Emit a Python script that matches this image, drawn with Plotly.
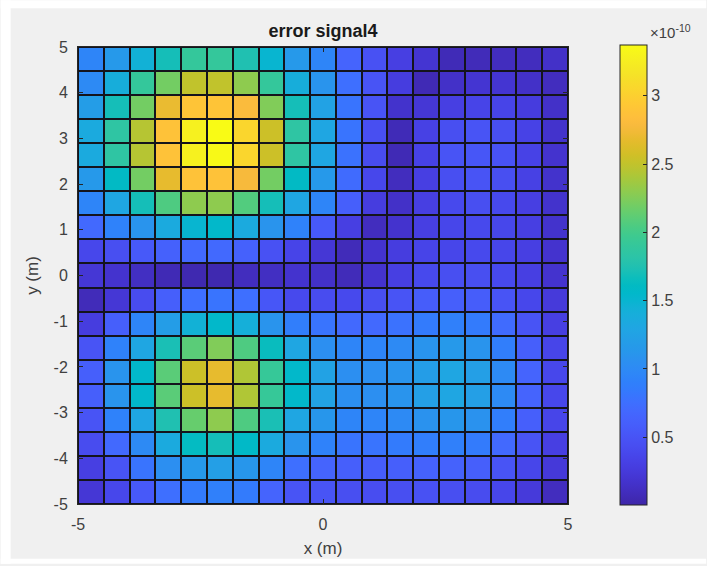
import numpy as np
import plotly.graph_objects as go

# Grid vertices (pcolor-style: 20 edges -> 19 cells per axis)
x_edges = np.linspace(-5, 5, 20)
y_edges = np.linspace(-5, 5, 20)

# Error signal values (x 1e-10), one list per row, top row (y = 5) first
row_00 = [0.95, 1.15, 1.45, 1.70, 1.90, 1.90, 1.75, 1.50, 1.15, 0.95, 0.65, 0.47, 0.30, 0.20, 0.07, 0.08, 0.10, 0.10, 0.15]
row_01 = [1.00, 1.40, 1.90, 2.20, 2.50, 2.50, 2.30, 1.90, 1.40, 1.10, 0.75, 0.50, 0.28, 0.06, 0.15, 0.20, 0.20, 0.15, 0.10]
row_02 = [1.20, 1.70, 2.20, 2.70, 2.90, 2.90, 2.80, 2.25, 1.70, 1.25, 0.80, 0.50, 0.17, 0.22, 0.30, 0.35, 0.35, 0.27, 0.15]
row_03 = [1.35, 1.85, 2.45, 2.88, 3.28, 3.37, 3.05, 2.55, 1.85, 1.30, 0.80, 0.45, 0.07, 0.32, 0.45, 0.50, 0.45, 0.33, 0.17]
row_04 = [1.35, 1.85, 2.45, 2.88, 3.28, 3.35, 3.05, 2.55, 1.85, 1.30, 0.78, 0.42, 0.06, 0.33, 0.50, 0.52, 0.48, 0.33, 0.18]
row_05 = [1.15, 1.60, 2.20, 2.68, 2.88, 2.88, 2.78, 2.20, 1.60, 1.15, 0.72, 0.38, 0.10, 0.30, 0.45, 0.50, 0.45, 0.32, 0.17]
row_06 = [0.95, 1.30, 1.70, 2.05, 2.30, 2.30, 2.07, 1.70, 1.30, 0.95, 0.60, 0.28, 0.15, 0.30, 0.40, 0.45, 0.40, 0.30, 0.17]
row_07 = [0.70, 0.92, 1.10, 1.35, 1.50, 1.55, 1.35, 1.10, 0.92, 0.55, 0.30, 0.10, 0.18, 0.30, 0.37, 0.40, 0.38, 0.30, 0.17]
row_08 = [0.38, 0.45, 0.55, 0.62, 0.70, 0.70, 0.62, 0.47, 0.35, 0.22, 0.08, 0.18, 0.28, 0.35, 0.37, 0.40, 0.37, 0.30, 0.18]
row_09 = [0.22, 0.18, 0.12, 0.06, 0.04, 0.04, 0.10, 0.12, 0.18, 0.15, 0.08, 0.18, 0.30, 0.40, 0.45, 0.45, 0.40, 0.30, 0.18]
row_10 = [0.08, 0.22, 0.42, 0.60, 0.75, 0.80, 0.75, 0.52, 0.40, 0.42, 0.40, 0.45, 0.50, 0.58, 0.60, 0.58, 0.50, 0.38, 0.25]
row_11 = [0.28, 0.60, 0.95, 1.20, 1.45, 1.55, 1.42, 1.10, 0.88, 0.80, 0.70, 0.70, 0.78, 0.85, 0.90, 0.85, 0.72, 0.50, 0.30]
row_12 = [0.50, 0.92, 1.30, 1.72, 2.10, 2.25, 2.05, 1.65, 1.30, 1.05, 0.95, 0.95, 1.00, 1.10, 1.15, 1.10, 0.88, 0.60, 0.36]
row_13 = [0.60, 1.10, 1.55, 2.10, 2.55, 2.68, 2.43, 1.92, 1.55, 1.25, 1.05, 1.05, 1.10, 1.20, 1.30, 1.22, 1.00, 0.65, 0.38]
row_14 = [0.60, 1.10, 1.55, 2.10, 2.55, 2.68, 2.43, 1.92, 1.55, 1.25, 1.05, 1.05, 1.10, 1.22, 1.30, 1.22, 1.00, 0.65, 0.38]
row_15 = [0.50, 0.92, 1.30, 1.75, 2.15, 2.30, 2.05, 1.72, 1.30, 1.12, 0.95, 0.95, 1.00, 1.08, 1.12, 1.08, 0.88, 0.60, 0.36]
row_16 = [0.42, 0.70, 1.00, 1.35, 1.62, 1.70, 1.58, 1.35, 1.10, 0.92, 0.80, 0.80, 0.85, 0.88, 0.90, 0.85, 0.70, 0.50, 0.30]
row_17 = [0.30, 0.50, 0.80, 1.05, 1.15, 1.22, 1.12, 0.95, 0.75, 0.65, 0.60, 0.58, 0.60, 0.63, 0.63, 0.60, 0.50, 0.37, 0.24]
row_18 = [0.22, 0.38, 0.55, 0.75, 0.85, 0.90, 0.85, 0.65, 0.50, 0.50, 0.45, 0.43, 0.45, 0.47, 0.45, 0.42, 0.37, 0.25, 0.10]

rows_top_down = [row_00, row_01, row_02, row_03, row_04, row_05, row_06, row_07, row_08, row_09,
                 row_10, row_11, row_12, row_13, row_14, row_15, row_16, row_17, row_18]
z = np.array(rows_top_down[::-1])  # first row of z sits at y = -5

cbar_ticks = [0.5, 1, 1.5, 2, 2.5, 3]
cbar_labels = ["0.5", "1", "1.5", "2", "2.5", "3"]
x_ticks = [-5, 0, 5]
y_ticks = [-5, -4, -3, -2, -1, 0, 1, 2, 3, 4, 5]

# Parula colormap (64 entries)
parula = [
    (0.2422, 0.1504, 0.6603), (0.2504, 0.1650, 0.7076), (0.2578, 0.1818, 0.7511), (0.2647, 0.1978, 0.7952),
    (0.2706, 0.2147, 0.8364), (0.2751, 0.2342, 0.8710), (0.2783, 0.2559, 0.8991), (0.2803, 0.2782, 0.9221),
    (0.2813, 0.3006, 0.9414), (0.2810, 0.3228, 0.9579), (0.2795, 0.3447, 0.9717), (0.2760, 0.3667, 0.9829),
    (0.2699, 0.3892, 0.9906), (0.2602, 0.4123, 0.9952), (0.2440, 0.4358, 0.9988), (0.2206, 0.4603, 0.9973),
    (0.1963, 0.4847, 0.9892), (0.1834, 0.5074, 0.9798), (0.1786, 0.5289, 0.9682), (0.1764, 0.5499, 0.9520),
    (0.1687, 0.5703, 0.9359), (0.1540, 0.5902, 0.9218), (0.1460, 0.6091, 0.9079), (0.1380, 0.6276, 0.8973),
    (0.1248, 0.6459, 0.8883), (0.1113, 0.6635, 0.8763), (0.0952, 0.6798, 0.8598), (0.0689, 0.6948, 0.8394),
    (0.0297, 0.7082, 0.8163), (0.0036, 0.7203, 0.7917), (0.0067, 0.7312, 0.7660), (0.0433, 0.7411, 0.7394),
    (0.0964, 0.7500, 0.7120), (0.1408, 0.7584, 0.6842), (0.1717, 0.7670, 0.6554), (0.1938, 0.7758, 0.6251),
    (0.2161, 0.7843, 0.5923), (0.2470, 0.7918, 0.5567), (0.2906, 0.7973, 0.5188), (0.3406, 0.8008, 0.4789),
    (0.3909, 0.8029, 0.4354), (0.4456, 0.8024, 0.3909), (0.5044, 0.7993, 0.3480), (0.5616, 0.7942, 0.3045),
    (0.6174, 0.7876, 0.2612), (0.6720, 0.7793, 0.2227), (0.7242, 0.7698, 0.1910), (0.7738, 0.7598, 0.1646),
    (0.8203, 0.7498, 0.1535), (0.8634, 0.7406, 0.1596), (0.9035, 0.7330, 0.1774), (0.9393, 0.7288, 0.2100),
    (0.9728, 0.7298, 0.2394), (0.9956, 0.7434, 0.2371), (0.9970, 0.7659, 0.2199), (0.9952, 0.7893, 0.2028),
    (0.9892, 0.8136, 0.1885), (0.9786, 0.8386, 0.1766), (0.9676, 0.8639, 0.1643), (0.9610, 0.8890, 0.1537),
    (0.9597, 0.9135, 0.1423), (0.9628, 0.9373, 0.1265), (0.9691, 0.9606, 0.1064), (0.9769, 0.9839, 0.0805),
]
colorscale = [[i / (len(parula) - 1), "rgb({},{},{})".format(*(round(c * 255) for c in rgb))]
              for i, rgb in enumerate(parula)]

W, H = 707, 566
PL, PR, PT, PB = 77.5, 568.5, 47, 506        # plot area in pixels
PW, PH = PR - PL, PB - PT
FONT = "Liberation Sans, Arial, Helvetica, sans-serif"
TXT = "#404040"
TICK_SIZE = 16


def px_x(px):
    return (px - PL) / PW


def px_y(py):
    return (PB - py) / PH


fig = go.Figure(go.Heatmap(
    x=x_edges, y=y_edges, z=z,
    colorscale=colorscale, zmin=0.004, zmax=3.372,
    xgap=2, ygap=2,
    colorbar=dict(
        x=px_x(621), xanchor="left",
        y=px_y(45), yanchor="top",
        len=(507 - 45) / PH, lenmode="fraction",
        thickness=27, thicknessmode="pixels",
        outlinewidth=1, outlinecolor="#262626",
        tickvals=cbar_ticks, ticktext=cbar_labels,
        ticks="inside", ticklen=4, tickcolor="#262626",
        tickfont=dict(family=FONT, size=TICK_SIZE, color=TXT),
        xpad=0, ypad=0,
    ),
    hoverinfo="skip",
))

axis_common = dict(
    showgrid=False, zeroline=False,
    showline=True, linecolor="#262626", linewidth=1, mirror="ticks",
    ticks="inside", ticklen=5, tickcolor="#262626",
    tickfont=dict(family=FONT, size=TICK_SIZE, color=TXT),
    ticklabelstandoff=6,
    range=[-5, 5],
)

# white frame around the grey figure area
frame = [
    dict(x0=0, x1=W, y0=0, y1=8),
    dict(x0=0, x1=W, y0=561, y1=H),
    dict(x0=0, x1=10, y0=0, y1=H),
]
shapes = [dict(type="rect", xref="paper", yref="paper",
               x0=px_x(f["x0"]), x1=px_x(f["x1"]), y0=px_y(f["y1"]), y1=px_y(f["y0"]),
               fillcolor="white", line=dict(width=0)) for f in frame]

fig.update_layout(
    width=W, height=H,
    margin=dict(l=PL, r=W - PR, t=PT, b=H - PB),
    paper_bgcolor="#f0f0f0",
    plot_bgcolor="#14141c",
    title=dict(text="<b>error signal4</b>", x=323 / W, xanchor="center",
               y=1 - 31 / H, yanchor="middle",
               font=dict(family=FONT, size=18, color="#1a1a1a")),
    xaxis=dict(axis_common, tickvals=x_ticks, ticktext=[str(v) for v in x_ticks],
               title=dict(text="x (m)", standoff=9, font=dict(family=FONT, size=17, color=TXT))),
    yaxis=dict(axis_common, tickvals=y_ticks, ticktext=[str(v) for v in y_ticks],
               title=dict(text="y (m)", standoff=10, font=dict(family=FONT, size=17, color=TXT))),
    shapes=shapes,
    annotations=[dict(text="×10<sup>-10</sup>", xref="paper", yref="paper",
                      x=px_x(649), y=px_y(31),
                      xanchor="left", yanchor="middle", showarrow=False,
                      font=dict(family=FONT, size=15, color=TXT))],
)

fig.write_html("out.html")
